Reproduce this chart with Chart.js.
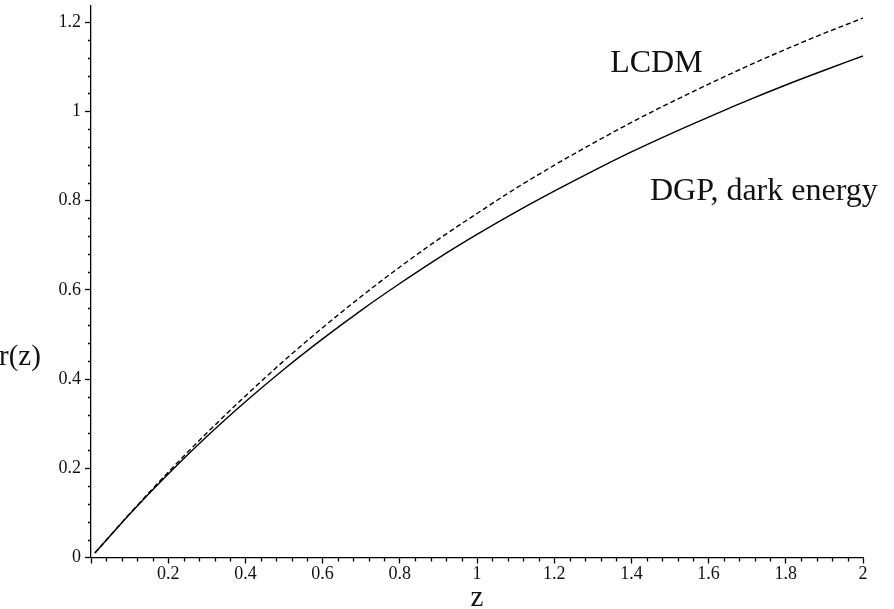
<!DOCTYPE html>
<html>
<head>
<meta charset="utf-8">
<script src="https://cdn.jsdelivr.net/npm/chart.js@4.4.1/dist/chart.umd.min.js"></script>
<style>
html,body{margin:0;padding:0;background:#fff;}
#c{display:block;}
</style>
</head>
<body>
<canvas id="c" width="894" height="609"></canvas>
<script>
// redshift samples
const zValues = [0.01, 0.1, 0.2, 0.3, 0.4, 0.5, 0.6, 0.7, 0.8, 0.9, 1.0, 1.1, 1.2, 1.3, 1.4, 1.5, 1.6, 1.7, 1.8, 1.9, 2.0];
// r(z) for LCDM (dashed)
const lcdm = [0.01, 0.098, 0.191, 0.279, 0.362, 0.441, 0.515, 0.585, 0.651, 0.713, 0.771, 0.827, 0.879, 0.928, 0.975, 1.019, 1.061, 1.101, 1.139, 1.175, 1.209];
// r(z) for DGP, dark energy (solid)
const dgp = [0.01, 0.097, 0.187, 0.271, 0.349, 0.422, 0.490, 0.554, 0.614, 0.671, 0.724, 0.774, 0.821, 0.866, 0.909, 0.949, 0.987, 1.024, 1.059, 1.092, 1.124];
const xTickValues = [0.2, 0.4, 0.6, 0.8, 1, 1.2, 1.4, 1.6, 1.8, 2];
const yTickValues = [0, 0.2, 0.4, 0.6, 0.8, 1, 1.2];
const minorStep = 0.04;
const labels = [
  {text: 'LCDM', z: 1.345, r: 1.089},
  {text: 'DGP, dark energy', z: 1.448, r: 0.801}
];
const xTitle = 'z';
const yTitle = 'r(z)';

const SERIF = '"Liberation Serif", "DejaVu Serif", serif';
const fmt = v => String(Math.round(v * 10) / 10);

const extras = {
  id: 'extras',
  afterDraw(chart) {
    const ctx = chart.ctx;
    const xs = chart.scales.x, ys = chart.scales.y;
    ctx.save();
    ctx.strokeStyle = '#000';
    ctx.lineWidth = 1.3;
    // minor ticks
    const x0 = xs.getPixelForValue(0), y0 = ys.getPixelForValue(0);
    ctx.beginPath();
    for (let i = 1; i * minorStep <= 2.0001; i++) {
      if (i % 5 === 0) continue;
      const px = Math.round(xs.getPixelForValue(i * minorStep)) + 0.5;
      ctx.moveTo(px, y0); ctx.lineTo(px, y0 + 4);
    }
    for (let i = 1; i * minorStep <= ys.max; i++) {
      if (i % 5 === 0) continue;
      const py = Math.round(ys.getPixelForValue(i * minorStep)) + 0.5;
      ctx.moveTo(x0, py); ctx.lineTo(x0 - 3, py);
    }
    ctx.stroke();
    // curve labels
    ctx.fillStyle = '#111';
    ctx.font = '32px ' + SERIF;
    ctx.textAlign = 'left';
    ctx.textBaseline = 'alphabetic';
    labels.forEach(l => {
      ctx.fillText(l.text, xs.getPixelForValue(l.z), ys.getPixelForValue(l.r));
    });
    // axis titles
    ctx.font = '29px ' + SERIF;
    ctx.textAlign = 'center';
    ctx.fillText(xTitle, (xs.left + xs.right) / 2, 606);
    ctx.textAlign = 'left';
    ctx.textBaseline = 'middle';
    ctx.fillText(yTitle, -1, 357);
    ctx.restore();
  }
};

new Chart(document.getElementById('c'), {
  type: 'line',
  data: {
    datasets: [
      {
        label: 'LCDM',
        data: zValues.map((z, i) => ({x: z, y: lcdm[i]})),
        borderColor: '#000',
        borderWidth: 1.4,
        borderDash: [5, 3],
        pointRadius: 0,
        fill: false,
        cubicInterpolationMode: 'monotone'
      },
      {
        label: 'DGP, dark energy',
        data: zValues.map((z, i) => ({x: z, y: dgp[i]})),
        borderColor: '#000',
        borderWidth: 1.4,
        pointRadius: 0,
        fill: false,
        cubicInterpolationMode: 'monotone'
      }
    ]
  },
  options: {
    responsive: false,
    animation: false,
    layout: {padding: {left: 0, right: 31, top: 6, bottom: 0}},
    plugins: {legend: {display: false}, tooltip: {enabled: false}},
    scales: {
      x: {
        type: 'linear',
        min: 0, max: 2,
        afterFit: s => { s.height = 51.5; s.paddingLeft = 0; s.paddingRight = 0; },
        afterBuildTicks: s => { s.ticks = [{value: 0}].concat(xTickValues.map(v => ({value: v}))); },
        border: {display: true, color: '#000', width: 1.3},
        grid: {display: true, drawOnChartArea: false, drawTicks: true, tickLength: 6, tickColor: '#000', tickWidth: 1.3},
        ticks: {
          color: '#111', padding: 0, maxRotation: 0, autoSkip: false,
          font: {family: SERIF, size: 18},
          callback: v => (v === 0 ? '' : fmt(v))
        }
      },
      y: {
        type: 'linear',
        min: 0, max: 1.236,
        afterFit: s => { s.width = 91; s.paddingTop = 0; s.paddingBottom = 0; },
        afterBuildTicks: s => { s.ticks = yTickValues.map(v => ({value: v})); },
        border: {display: true, color: '#000', width: 1.3},
        grid: {display: true, drawOnChartArea: false, drawTicks: true, tickLength: 6, tickColor: '#000', tickWidth: 1.3},
        ticks: {
          color: '#111', padding: 4, autoSkip: false,
          font: {family: SERIF, size: 18},
          callback: v => fmt(v)
        }
      }
    }
  },
  plugins: [extras]
});
</script>
</body>
</html>
